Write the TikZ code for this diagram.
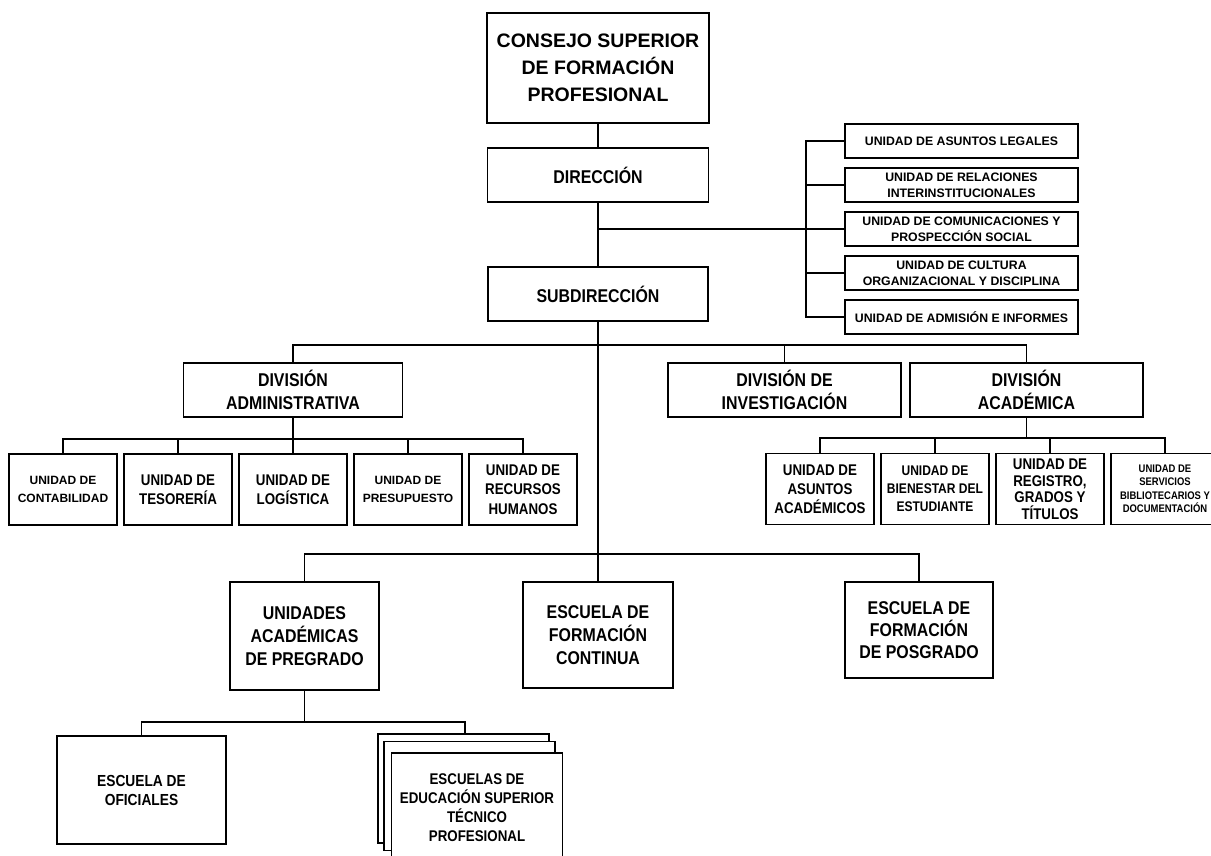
\documentclass[tikz,border=0pt]{standalone}
\usepackage{fontspec}
\usepackage{tikz}
\usetikzlibrary{positioning}
\setmainfont{Liberation Sans}
\newfontfamily\orgwide{Liberation Sans}
\newfontfamily\orgnarrow{Liberation Sans}[FakeStretch=0.86]
\newcommand{\fsz}[2]{\fontsize{#1}{#2}\selectfont}

\begin{document}
\begin{tikzpicture}[
    x=1pt, y=-1pt,
    line width=1.4pt,
    box/.style={rectangle, draw, fill=white, align=center, inner sep=2pt},
    head/.style={box, font=\orgnarrow\bfseries\fsz{18.5}{23}},
    division/.style={head, minimum width=233pt, minimum height=54pt},
    school/.style={head, minimum height=108pt, minimum width=149pt},
    unit/.style={box, minimum width=108pt, minimum height=71pt},
    sideunit/.style={box, minimum width=233pt, minimum height=34pt, font=\orgwide\bfseries\fsz{12.3}{16}},
    widefont/.style={font=\orgwide\bfseries\fsz{12}{17.5}},
    narrowfont/.style={font=\orgnarrow\bfseries\fsz{15.5}{19.5}}
]
\useasboundingbox (0,0) rectangle (1211,855);

\node [box, minimum width=222pt, minimum height=110pt, font=\orgwide\bfseries\fsz{19.5}{27}] (consejo) at (598,68) {CONSEJO SUPERIOR\\DE FORMACIÓN\\PROFESIONAL};
\node [head, minimum width=221pt, minimum height=54pt] (direccion) at (598,175) {DIRECCIÓN};
\node [head, minimum width=220pt, minimum height=54pt] (subdireccion) at (598,294) {SUBDIRECCIÓN};

\node [sideunit] (ulegales) at (961.5,141) {UNIDAD DE ASUNTOS LEGALES};
\node [sideunit, below of=ulegales, node distance=44pt] (urelaciones) {UNIDAD DE RELACIONES\\INTERINSTITUCIONALES};
\node [sideunit, below of=urelaciones, node distance=44pt] (ucomunic) {UNIDAD DE COMUNICACIONES Y\\PROSPECCIÓN SOCIAL};
\node [sideunit, below of=ucomunic, node distance=44pt] (ucultura) {UNIDAD DE CULTURA\\ORGANIZACIONAL Y DISCIPLINA};
\node [sideunit, below of=ucultura, node distance=44pt] (uadmision) {UNIDAD DE ADMISIÓN E INFORMES};

\node [division, minimum width=219pt] (divadmin) at (293,390) {DIVISIÓN\\ADMINISTRATIVA};
\node [division] (divinv) at (784.5,390) {DIVISIÓN DE\\INVESTIGACIÓN};
\node [division] (divacad) at (1026.5,390) {DIVISIÓN\\ACADÉMICA};

\node [unit, widefont] (ucontab) at (63,489.5) {UNIDAD DE\\CONTABILIDAD};
\node [unit, narrowfont, right of=ucontab, node distance=115pt] (utesoreria) {UNIDAD DE\\TESORERÍA};
\node [unit, narrowfont, right of=utesoreria, node distance=115pt] (ulogistica) {UNIDAD DE\\LOGÍSTICA};
\node [unit, widefont, right of=ulogistica, node distance=115pt] (upresupuesto) {UNIDAD DE\\PRESUPUESTO};
\node [unit, narrowfont, right of=upresupuesto, node distance=115pt] (urecursos) {UNIDAD DE\\RECURSOS\\HUMANOS};

\node [unit, font=\orgnarrow\bfseries\fsz{15.5}{19}] (uasuntos) at (820,489) {UNIDAD DE\\ASUNTOS\\ACADÉMICOS};
\node [unit, right of=uasuntos, node distance=115pt, font=\orgnarrow\bfseries\fsz{14}{18}] (ubienestar) {UNIDAD DE\\BIENESTAR DEL\\ESTUDIANTE};
\node [unit, right of=ubienestar, node distance=115pt, font=\orgnarrow\bfseries\fsz{15.5}{16.5}] (uregistro) {UNIDAD DE\\REGISTRO,\\GRADOS Y\\TÍTULOS};
\node [unit, right of=uregistro, node distance=115pt, font=\orgnarrow\bfseries\fsz{11}{13.5}] (uservicios) {UNIDAD DE\\SERVICIOS\\BIBLIOTECARIOS Y\\DOCUMENTACIÓN};

\node [school] (unidades) at (304.5,636) {UNIDADES\\ACADÉMICAS\\DE PREGRADO};
\node [school, minimum width=150pt, minimum height=106pt] (continua) at (598,635) {ESCUELA DE\\FORMACIÓN\\CONTINUA};
\node [school, minimum width=148pt, minimum height=96pt, font=\orgnarrow\bfseries\fsz{18.5}{22}] (posgrado) at (919,630) {ESCUELA DE\\FORMACIÓN\\DE POSGRADO};

\node [school, minimum width=169pt, font=\orgnarrow\bfseries\fsz{16}{19}] (oficiales) at (141.5,790) {ESCUELA DE\\OFICIALES};
\node [box, minimum width=171pt, minimum height=109pt] (escback) at (463.5,788.5) {};
\node [box, minimum width=171pt, minimum height=109pt] (escmid) at (469.5,796) {};
\node [box, minimum width=171pt, minimum height=109pt, font=\orgnarrow\bfseries\fsz{15.5}{19}] (escuelas) at (477,807.5) {ESCUELAS DE\\EDUCACIÓN SUPERIOR\\TÉCNICO\\PROFESIONAL};

\coordinate (rb) at (806,0);
\coordinate (busdiv) at (598,345);
\coordinate (busadm) at (293,439);
\coordinate (busacad) at (1026.5,438);
\coordinate (busesc) at (598,554);
\coordinate (buspre) at (304.5,722);
\coordinate (escjoin) at (465,722);

\draw (consejo) -- (direccion);
\draw (direccion) -- (subdireccion);
\draw (subdireccion) -- (continua);
\draw (direccion.south |- ucomunic.west) -- (ucomunic.west);
\draw (uadmision.west) -| (rb |- ulegales.west) -- (ulegales.west);
\foreach \u in {urelaciones,ucultura}
    \draw (\u.west) -- (\u.west -| rb);

\draw (divadmin.north) |- (busdiv) -| (divacad.north);
\draw (divinv.north) -- (divinv.north |- busdiv);

\draw (divadmin.south) -- (ulogistica.north);
\draw (ucontab.north) |- (busadm) -| (urecursos.north);
\foreach \u in {utesoreria,upresupuesto}
    \draw (\u.north) -- (\u.north |- busadm);

\draw (divacad.south) -- (busacad);
\draw (uasuntos.north) |- (busacad) -| (uservicios.north);
\foreach \u in {ubienestar,uregistro}
    \draw (\u.north) -- (\u.north |- busacad);

\draw (unidades.north) |- (busesc) -| (posgrado.north);
\draw (unidades.south) -- (buspre);
\draw (oficiales.north) |- (escjoin) -- (escjoin |- escback.north);

\end{tikzpicture}
\end{document}
